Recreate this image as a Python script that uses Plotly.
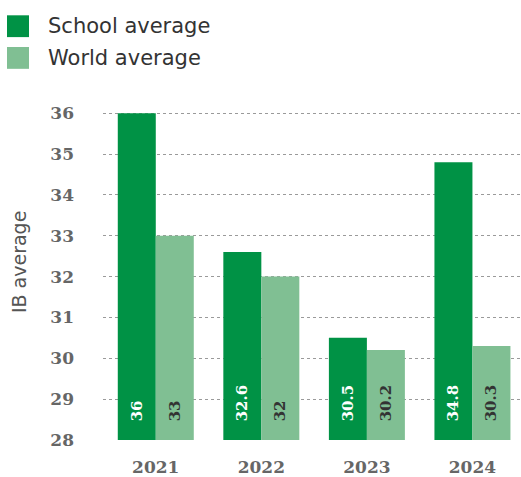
import plotly.graph_objects as go

years = ["2021", "2022", "2023", "2024"]
school_avg = [36, 32.6, 30.5, 34.8]
world_avg = [33, 32, 30.2, 30.3]
y_ticks = [28, 29, 30, 31, 32, 33, 34, 35, 36]
series_names = ["School average", "World average"]

DARK = "#009245"
LIGHT = "#80BF93"

W, H = 521, 477
L, R, T, B = 103, 0, 104.5, 34.5
PW, PH = W - L - R, H - T - B


def px_x(x):
    return (x - L) / PW


def px_y(y):
    return 1 - (y - T) / PH


pad = "\u00a0\u00a0\u00a0"

fig = go.Figure()
fig.add_trace(go.Bar(
    x=years, y=[v - 28 for v in school_avg], base=28, name=series_names[0],
    marker=dict(color=DARK, line=dict(width=0)),
    text=[pad + f"{v:g}" for v in school_avg], textposition="inside",
    insidetextanchor="start", textangle=-90,
    insidetextfont=dict(family="DejaVu Serif", size=15, color="white", weight="bold"),
    hoverinfo="skip", showlegend=False,
))
fig.add_trace(go.Bar(
    x=years, y=[v - 28 for v in world_avg], base=28, name=series_names[1],
    marker=dict(color=LIGHT, line=dict(width=0)),
    text=[pad + f"{v:g}" for v in world_avg], textposition="inside",
    insidetextanchor="start", textangle=-90,
    insidetextfont=dict(family="DejaVu Serif", size=15, color="#333333", weight="bold"),
    hoverinfo="skip", showlegend=False,
))

shapes = []
annotations = []
legend_rows = [(DARK, series_names[0], 14, 36), (LIGHT, series_names[1], 46, 68)]
for color, name, y0, y1 in legend_rows:
    shapes.append(dict(type="rect", xref="paper", yref="paper",
                       x0=px_x(7), x1=px_x(29), y0=px_y(y1), y1=px_y(y0),
                       fillcolor=color, line=dict(width=0)))
    annotations.append(dict(xref="paper", yref="paper", x=px_x(46), y=px_y((y0 + y1) / 2),
                            xanchor="left", yanchor="middle", showarrow=False, text=name,
                            font=dict(family="DejaVu Sans", size=21, color="#333333")))

annotations.append(dict(xref="paper", yref="paper", x=px_x(19), y=px_y(263),
                        xanchor="center", yanchor="middle", showarrow=False,
                        text="IB average", textangle=-90,
                        font=dict(family="DejaVu Sans", size=19, color="#555555")))

fig.update_layout(
    width=W, height=H,
    margin=dict(l=L, r=R, t=T, b=B, pad=0),
    paper_bgcolor="white", plot_bgcolor="white",
    barmode="group", bargap=0.28, bargroupgap=0,
    showlegend=False,
    shapes=shapes, annotations=annotations,
    uniformtext=dict(mode=False),
    xaxis=dict(
        range=[-0.5, 3.46], showgrid=False, zeroline=False, showline=False,
        ticks="", tickfont=dict(family="DejaVu Serif", size=17, color="#666666", weight="bold"),
        ticklabelstandoff=15,
    ),
    yaxis=dict(
        range=[28, 36.2], tickvals=y_ticks, showgrid=True, gridcolor="#9a9a9a",
        griddash="dot", gridwidth=1, zeroline=False, showline=False, ticks="",
        tickfont=dict(family="DejaVu Serif", size=17, color="#666666", weight="bold"),
        ticklabelstandoff=28,
    ),
)

fig.write_html("out.html")
